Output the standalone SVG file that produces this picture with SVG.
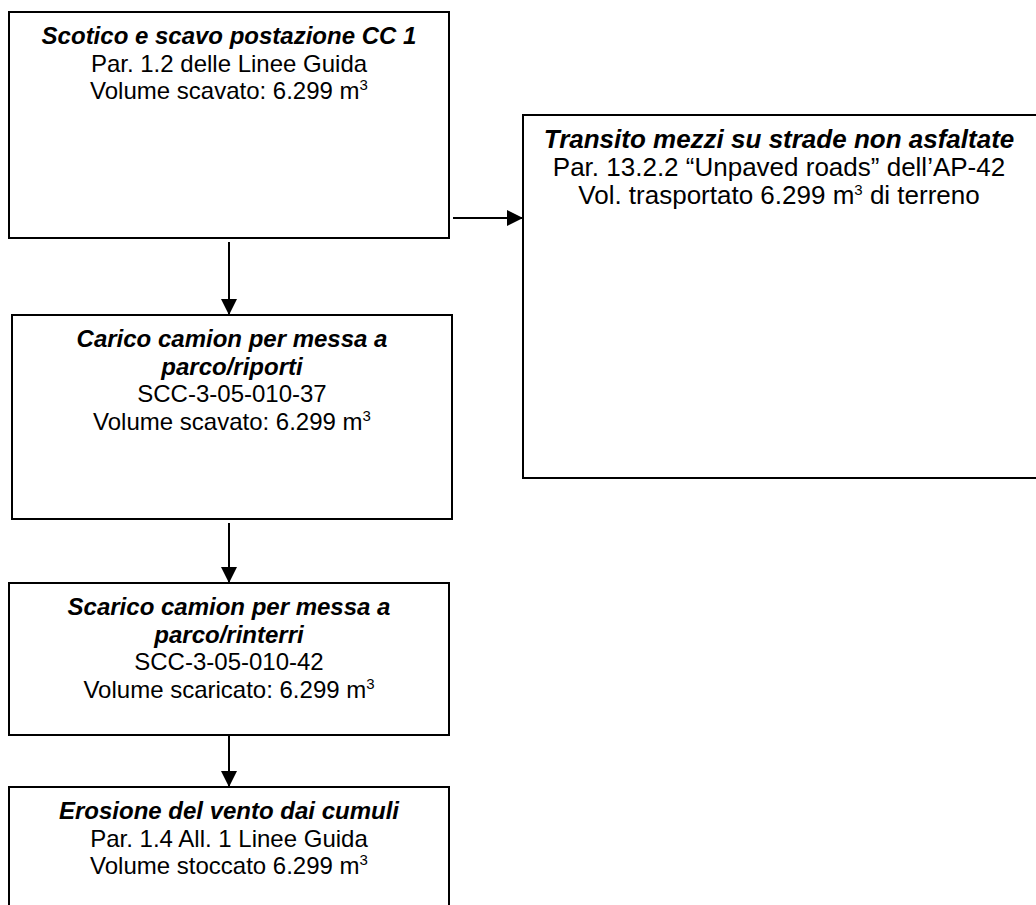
<svg xmlns="http://www.w3.org/2000/svg" width="1036" height="905" viewBox="0 0 1036 905">
<defs>
<style>
.box{fill:#fff;stroke:#000;stroke-width:2}
.t{font-family:"Liberation Sans",Arial,sans-serif;font-size:24px;fill:#000;text-anchor:middle}
.r{font-size:26px}
.b{font-weight:bold;font-style:italic}
.sup{font-size:15px}
.conn{stroke:#000;stroke-width:2;fill:none}
</style>
<marker id="ah" viewBox="0 0 10 10" refX="10" refY="5" markerWidth="8" markerHeight="8" markerUnits="strokeWidth" orient="auto">
<path d="M0,0 L10,5 L0,10 Z" fill="#000"/>
</marker>
</defs>
<rect width="1036" height="905" fill="#fff"/>
<g id="connectors">
<line class="conn" x1="453" y1="218" x2="523" y2="218" marker-end="url(#ah)"/>
<line class="conn" x1="229" y1="242" x2="229" y2="315" marker-end="url(#ah)"/>
<line class="conn" x1="229" y1="523" x2="229" y2="583" marker-end="url(#ah)"/>
<line class="conn" x1="229" y1="736" x2="229" y2="787" marker-end="url(#ah)"/>
</g>
<g id="node1">
<rect class="box" x="9" y="12" width="440" height="226"/>
<text class="t b" x="229" y="44">Scotico e scavo postazione CC 1</text>
<text class="t" x="229" y="71.5">Par. 1.2 delle Linee Guida</text>
<text class="t" x="229" y="99">Volume scavato: 6.299 m<tspan class="sup" dy="-9">3</tspan></text>
</g>
<g id="node2">
<rect class="box" x="523" y="115" width="540" height="363"/>
<text class="t r b" x="779" y="148">Transito mezzi su strade non asfaltate</text>
<text class="t r" x="779" y="175.5">Par. 13.2.2 “Unpaved roads” dell’AP-42</text>
<text class="t r" x="779" y="203.5">Vol. trasportato 6.299 m<tspan class="sup" dy="-9">3</tspan><tspan dy="9"> di terreno</tspan></text>
</g>
<g id="node3">
<rect class="box" x="12" y="315" width="440" height="204"/>
<text class="t b" x="232" y="347">Carico camion per messa a</text>
<text class="t b" x="232" y="374.5">parco/riporti</text>
<text class="t" x="232" y="402">SCC-3-05-010-37</text>
<text class="t" x="232" y="429.5">Volume scavato: 6.299 m<tspan class="sup" dy="-9">3</tspan></text>
</g>
<g id="node4">
<rect class="box" x="9" y="583" width="440" height="152"/>
<text class="t b" x="229" y="615">Scarico camion per messa a</text>
<text class="t b" x="229" y="642.5">parco/rinterri</text>
<text class="t" x="229" y="670">SCC-3-05-010-42</text>
<text class="t" x="229" y="697.5">Volume scaricato: 6.299 m<tspan class="sup" dy="-9">3</tspan></text>
</g>
<g id="node5">
<rect class="box" x="9" y="787" width="440" height="140"/>
<text class="t b" x="229" y="819">Erosione del vento dai cumuli</text>
<text class="t" x="229" y="846.5">Par. 1.4 All. 1 Linee Guida</text>
<text class="t" x="229" y="874">Volume stoccato 6.299 m<tspan class="sup" dy="-9">3</tspan></text>
</g>
</svg>
